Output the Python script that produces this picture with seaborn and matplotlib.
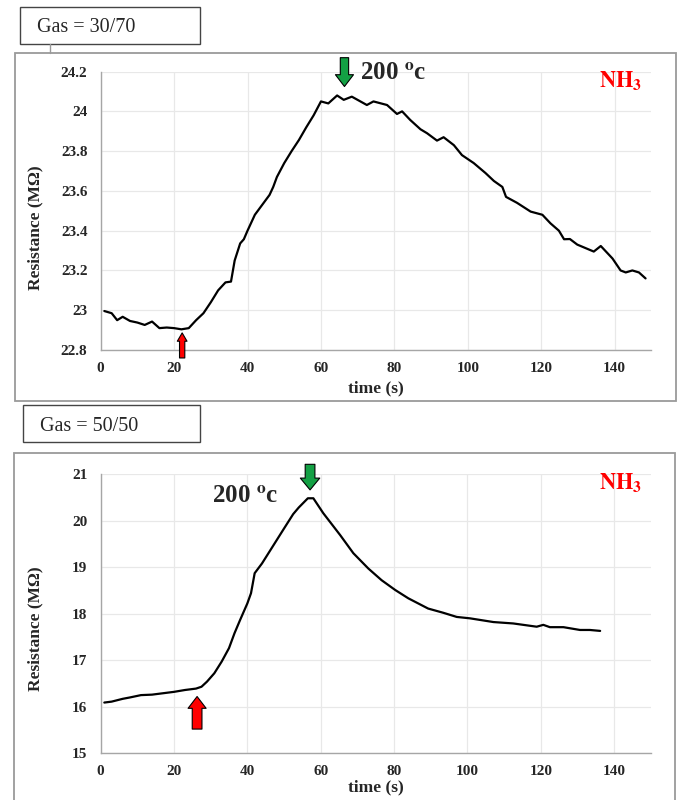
import numpy as np
import pandas as pd
import matplotlib
matplotlib.use("Agg")
import matplotlib.pyplot as plt
import matplotlib.patches as patches
from matplotlib.ticker import MultipleLocator, FuncFormatter
import seaborn as sns

# -------------------- DATOS --------------------
# Panel superior: Gas = 30/70
t_30_70 = [1, 3, 4.5, 6, 8, 10, 12, 14, 16, 18, 20, 22, 24, 26, 28, 30, 32, 34, 35.5,
           36.5, 38, 39, 40, 42, 44, 46, 47, 48, 50, 52, 54, 56, 58, 60, 62, 64.4, 66.2,
           68.4, 72.5, 74.3, 78, 80.7, 82.1, 84.3, 87.1, 88.9, 91.6, 93.4, 96.2, 98.4,
           101.6, 104.8, 107.1, 109.4, 110.4, 113.4, 117.1, 120.3, 122.5, 124.8, 126.2,
           127.8, 129.8, 134.3, 136.2, 139.4, 141.6, 143, 144.8, 146.6, 148.4]
r_30_70 = [22.996, 22.985, 22.95, 22.967, 22.946, 22.938, 22.926, 22.943, 22.91, 22.913,
           22.91, 22.904, 22.91, 22.95, 22.985, 23.04, 23.10, 23.14, 23.144, 23.25, 23.336,
           23.357, 23.40, 23.48, 23.53, 23.58, 23.62, 23.67, 23.74, 23.80, 23.856, 23.92,
           23.98, 24.05, 24.04, 24.08, 24.058, 24.074, 24.032, 24.05, 24.032, 23.987, 24.0,
           23.957, 23.91, 23.89, 23.853, 23.87, 23.83, 23.78, 23.74, 23.69, 23.65, 23.62,
           23.57, 23.54, 23.496, 23.48, 23.437, 23.40, 23.357, 23.358, 23.33, 23.295,
           23.323, 23.26, 23.20, 23.19, 23.20, 23.19, 23.16]

# Panel inferior: Gas = 50/50
t_50_50 = [1, 3, 6, 8, 11, 14, 17, 20, 23, 26, 27.5, 29, 31, 33, 35, 36.5, 38, 40, 41, 42,
           44, 46, 48, 50, 52.5, 54, 56.5, 58, 60.7, 65.3, 68.9, 73, 76.6, 80.3, 83.9,
           89.3, 93.4, 97.1, 100.7, 107.1, 112.5, 118.9, 120.7, 122.5, 126.2, 130.7,
           133.4, 136.2]
r_50_50 = [16.09, 16.11, 16.17, 16.20, 16.25, 16.26, 16.29, 16.32, 16.36, 16.39, 16.43,
           16.54, 16.72, 16.97, 17.26, 17.58, 17.86, 18.22, 18.44, 18.87, 19.08, 19.33,
           19.58, 19.83, 20.14, 20.28, 20.48, 20.48, 20.16, 19.69, 19.30, 18.97, 18.72,
           18.51, 18.33, 18.11, 18.02, 17.93, 17.90, 17.82, 17.79, 17.72, 17.76, 17.71,
           17.71, 17.65, 17.65, 17.63]

df_top = pd.DataFrame({'time': t_30_70, 'R': r_30_70})
df_bot = pd.DataFrame({'time': t_50_50, 'R': r_50_50})

# -------------------- ESTILO --------------------
sns.set_style("white")
plt.rcParams['font.family'] = ['Liberation Serif', 'DejaVu Serif']
plt.rcParams['mathtext.fontset'] = 'stix'

fig = plt.figure(figsize=(6.8, 8.0), dpi=100)

# Marcos exteriores (gris) y cajas de etiqueta
fig.patches.append(patches.Rectangle((0.022, 0.499), 0.972, 0.435, transform=fig.transFigure,
                                     fill=False, ec='#9a9a9a', lw=1.3, zorder=0))
fig.patches.append(patches.Rectangle((0.021, -0.02), 0.972, 0.454, transform=fig.transFigure,
                                     fill=False, ec='#9a9a9a', lw=1.3, zorder=0))
fig.patches.append(patches.Rectangle((0.0294, 0.945), 0.265, 0.0463, transform=fig.transFigure,
                                     fill=True, fc='white', ec='#444444', lw=1.0))
fig.patches.append(patches.Rectangle((0.0338, 0.4475), 0.261, 0.0457, transform=fig.transFigure,
                                     fill=True, fc='white', ec='#444444', lw=1.0))
fig.lines.append(plt.Line2D([0.074, 0.074], [0.934, 0.945], transform=fig.transFigure,
                            color='#9a9a9a', lw=1.0))
fig.text(0.054, 0.966, 'Gas = 30/70', fontsize=14.5, va='center', ha='left')
fig.text(0.059, 0.467, 'Gas = 50/50', fontsize=14.5, va='center', ha='left')

ax1 = fig.add_axes([0.148, 0.5625, 0.810, 0.348])
ax2 = fig.add_axes([0.148, 0.0584, 0.809, 0.349])

fmt = FuncFormatter(lambda v, p: '{:g}'.format(round(v, 2)))

def estilo(ax, ylo, yhi, ystep, ylab_y, xlab_y):
    ax.set_xlim(0, 150)
    ax.set_ylim(ylo, yhi)
    ax.xaxis.set_major_locator(MultipleLocator(20))
    ax.yaxis.set_major_locator(MultipleLocator(ystep))
    ax.yaxis.set_major_formatter(fmt)
    ax.grid(True, color='#e8e8e8', lw=0.9)
    ax.set_axisbelow(True)
    for s in ['top', 'right']:
        ax.spines[s].set_visible(False)
    for s in ['left', 'bottom']:
        ax.spines[s].set_color('#a6a6a6')
        ax.spines[s].set_linewidth(1.0)
    ax.tick_params(axis='both', length=3.5, color='#a6a6a6', labelsize=11, width=1.0)
    ax.tick_params(axis='x', pad=5)
    ax.tick_params(axis='y', pad=6)
    for lab in ax.get_xticklabels() + ax.get_yticklabels():
        lab.set_fontweight('bold')
    ax.set_xticks([0, 20, 40, 60, 80, 100, 120, 140])
    ax.set_xlabel('time (s)', fontsize=12.5, fontweight='bold')
    ax.set_ylabel('Resistance (MΩ)', fontsize=12.5, fontweight='bold')
    ax.yaxis.set_label_coords(-0.104, ylab_y)
    ax.xaxis.set_label_coords(0.50, xlab_y)

def flecha(ax, x, y_tail, y_tip, color, hw, tw, hl, ms=10):
    ax.annotate('', xy=(x, y_tip), xytext=(x, y_tail), annotation_clip=False,
                arrowprops=dict(arrowstyle='simple,head_length=%g,head_width=%g,tail_width=%g' % (hl, hw, tw),
                                fc=color, ec='black', lw=0.8, shrinkA=0, shrinkB=0,
                                mutation_scale=ms))

# -------------------- GRÁFICA 1 --------------------
sns.lineplot(data=df_top, x='time', y='R', ax=ax1, color='black', lw=1.6)
estilo(ax1, 22.8, 24.2, 0.2, 0.44, -0.11)
flecha(ax1, 22.2, 22.76, 22.886, '#ff0000', 0.7, 0.38, 0.6)
flecha(ax1, 66.4, 24.27, 24.125, '#13a044', 1.3, 0.6, 0.85)
ax1.text(70.6, 24.19, '200 $^{\\mathbf{o}}$c', fontsize=18, fontweight='bold', va='center', ha='left')
ax1.text(147.5, 24.15, r'$\mathbf{NH_3}$', fontsize=16, color='#ff0000', va='center', ha='right')

# -------------------- GRÁFICA 2 --------------------
sns.lineplot(data=df_bot, x='time', y='R', ax=ax2, color='black', lw=1.6)
estilo(ax2, 15, 21, 1, 0.445, -0.095)
flecha(ax2, 26.3, 15.52, 16.22, '#ff0000', 1.3, 0.7, 0.85)
flecha(ax2, 57.1, 21.21, 20.66, '#13a044', 1.4, 0.7, 0.85)
ax2.text(30.5, 20.51, '200 $^{\\mathbf{o}}$c', fontsize=18, fontweight='bold', va='center', ha='left')
ax2.text(147.5, 20.81, r'$\mathbf{NH_3}$', fontsize=16, color='#ff0000', va='center', ha='right')

fig.savefig('out.png', dpi=100)
